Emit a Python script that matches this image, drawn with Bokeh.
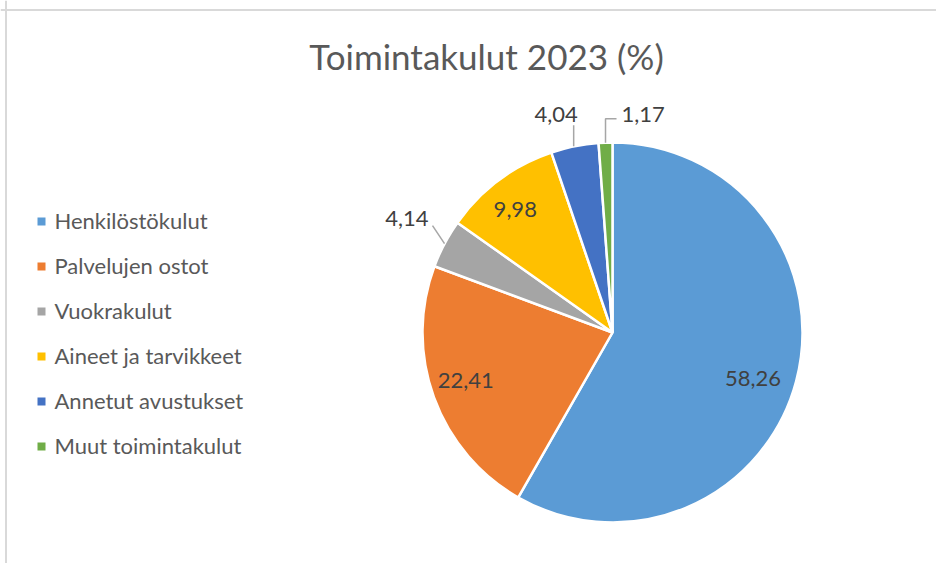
import math
from bokeh.plotting import figure
from bokeh.models import Range1d, Span, ColumnDataSource
from bokeh.embed import file_html
from bokeh.resources import INLINE
from bokeh.core.properties import value

# ---- data ----
categories = ["Henkilöstökulut", "Palvelujen ostot", "Vuokrakulut",
              "Aineet ja tarvikkeet", "Annetut avustukset", "Muut toimintakulut"]
values = [58.26, 22.41, 4.14, 9.98, 4.04, 1.17]
value_labels = ["58,26", "22,41", "4,14", "9,98", "4,04", "1,17"]
colors = ["#5B9BD5", "#ED7D31", "#A5A5A5", "#FFC000", "#4472C4", "#70AD47"]
title_text = "Toimintakulut 2023 (%)"

# ---- layout / style ----
W, H = 936, 563
CX, CY, R = 612, -332, 190
FONT = value("Lato")

p = figure(width=W, height=H, x_range=Range1d(0, W), y_range=Range1d(-H, 0),
           output_backend="svg", toolbar_location=None, min_border=0,
           x_axis_type=None, y_axis_type=None)
p.grid.visible = False
p.outline_line_color = None
p.background_fill_color = "white"
p.border_fill_color = "white"

# chart-area border (left and top edges visible in reference)
p.add_layout(Span(location=5.5, dimension="height", line_color="#d9d9d9", line_width=2))
p.add_layout(Span(location=-9.5, dimension="width", line_color="#d9d9d9", line_width=2))

# ---- pie ----
total = sum(values)
starts, ends, mids = [], [], []
cum = 0.0
for v in values:
    a0 = math.pi / 2 - 2 * math.pi * cum / total
    cum += v
    a1 = math.pi / 2 - 2 * math.pi * cum / total
    starts.append(a1)
    ends.append(a0)
    mids.append((a0 + a1) / 2)

src = ColumnDataSource(dict(start=starts, end=ends, color=colors, cat=categories))
p.wedge(x=CX, y=CY, radius=R, start_angle="start", end_angle="end", direction="anticlock",
        fill_color="color", line_color="white", line_width=2.5, source=src)

# ---- data labels ----
# (mode, radius factor, angle offset in degrees) – Excel "best fit" placement
label_style = [
    ("in", 0.78, -3.7), ("in", 0.815, -1.3), ("out_gray", None, 0),
    ("in", 0.82, 1.9), ("out_up", None, 0), ("out_elbow", None, 0),
]
lx, ly, lt, la = [], [], [], []
lead_xs, lead_ys = [], []
for lab, m, (mode, rf, da) in zip(value_labels, mids, label_style):
    ex, ey = CX + R * math.cos(m), CY + R * math.sin(m)
    if mode == "in":
        ang = m + math.radians(da)
        lx.append(CX + rf * R * math.cos(ang)); ly.append(CY + rf * R * math.sin(ang) + 1)
        la.append("center")
    elif mode == "out_gray":
        x2, y2 = ex - 12, ey + 18
        lead_xs.append([ex, x2]); lead_ys.append([ey, y2])
        lx.append(x2 - 4); ly.append(y2 + 7.5); la.append("right")
    elif mode == "out_up":
        x2, y2 = ex - 1, ey + 21
        lead_xs.append([ex - 1, x2]); lead_ys.append([ey, y2])
        lx.append(x2 + 4); ly.append(y2 + 11); la.append("right")
    else:
        x2, y2 = ex, ey + 24
        x3 = x2 + 11
        lead_xs.append([ex, x2, x3]); lead_ys.append([ey, y2, y2])
        lx.append(x3 + 5); ly.append(y2 + 4); la.append("left")
    lt.append(lab)

p.multi_line(xs=lead_xs, ys=lead_ys, line_color="#a6a6a6", line_width=1.5)
p.text(x=lx, y=ly, text=lt, text_align=la, text_baseline="middle",
       text_font=FONT, text_font_size="22px", text_color="#404040")

# ---- title ----
p.text(x=[486], y=[-55], text=[title_text], text_align="center", text_baseline="middle",
       text_font=FONT, text_font_size="35px", text_color="#595959")

# ---- legend ----
leg_y = [-(221 + 45 * i) for i in range(len(categories))]
p.scatter(x=[41] * len(categories), y=leg_y, marker="square", size=8,
          fill_color=colors, line_color=None)
p.text(x=[54] * len(categories), y=[v + 1 for v in leg_y], text=categories, text_align="left",
       text_baseline="middle", text_font=FONT, text_font_size="22px", text_color="#595959")

open("out.html", "w").write(file_html(p, INLINE))
